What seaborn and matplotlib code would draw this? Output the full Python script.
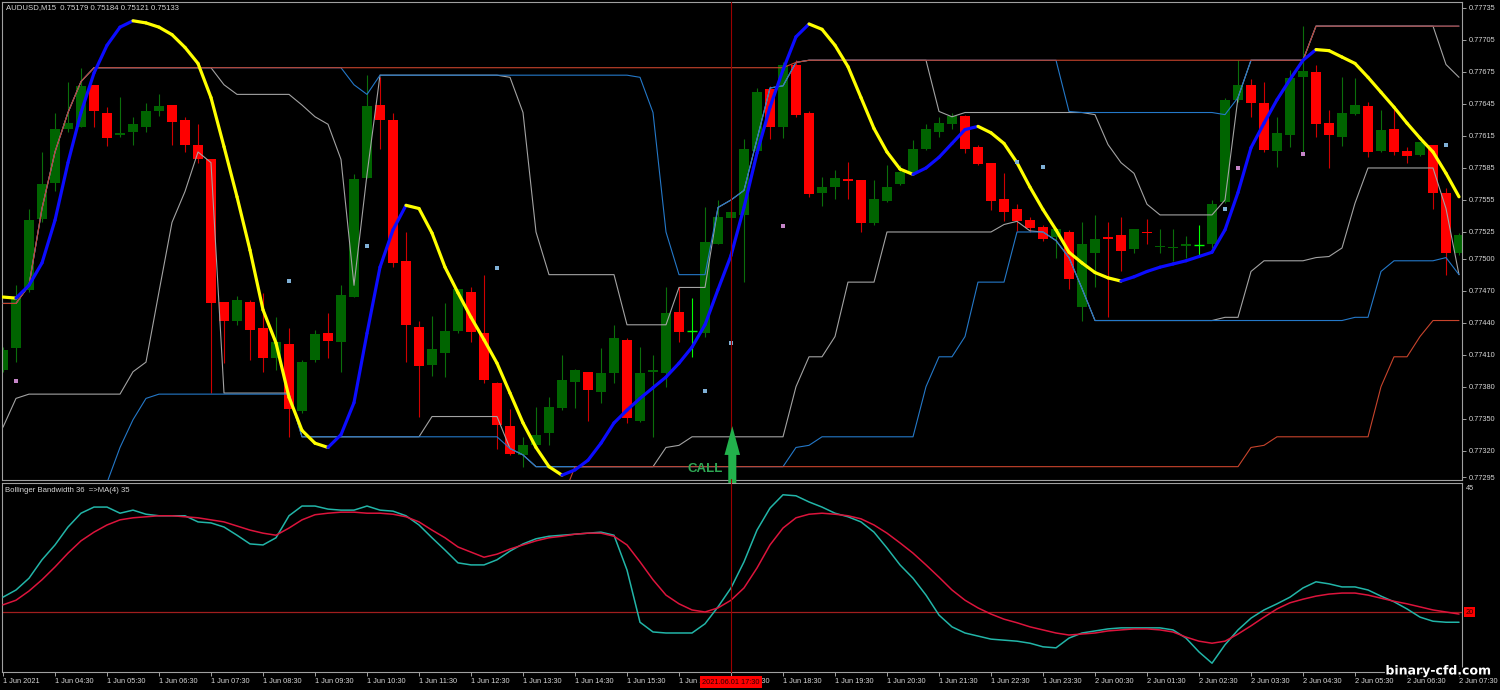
import numpy as np
import matplotlib
matplotlib.use('Agg')
import matplotlib.pyplot as plt
import seaborn as sns
from matplotlib.patches import FancyArrow
from matplotlib.collections import LineCollection
import matplotlib.patheffects as pe

# ---------------- data ----------------
opens = [0.77396,0.77416,0.77471,0.77537,0.77571,0.77622,0.77623,0.77663,0.77637,0.77616,
         0.77619,0.77623,0.77638,0.77644,0.77630,0.77607,0.77593,0.77459,0.77442,0.77459,
         0.77435,0.77407,0.77420,0.77357,0.77405,0.77430,0.77422,0.77464,0.77576,0.77644,
         0.77630,0.77498,0.77436,0.77400,0.77412,0.77432,0.77469,0.77430,0.77383,0.77343,
         0.77316,0.77325,0.77337,0.77360,0.77384,0.77394,0.77375,0.77393,0.77424,0.77348,
         0.77394,0.77393,0.77450,0.77432,0.77430,0.77514,0.77538,0.77541,0.77601,0.77659,
         0.77623,0.77682,0.77637,0.77562,0.77567,0.77575,0.77574,0.77533,0.77554,0.77570,
         0.77581,0.77603,0.77619,0.77626,0.77634,0.77605,0.77590,0.77556,0.77547,0.77536,
         0.77530,0.77520,0.77525,0.77455,0.77505,0.77520,0.77522,0.77509,0.77525,0.77511,
         0.77510,0.77512,0.77513,0.77514,0.77553,0.77649,0.77663,0.77646,0.77601,0.77616,
         0.77670,0.77675,0.77627,0.77614,0.77636,0.77643,0.77601,0.77622,0.77601,0.77597,
         0.77607,0.77562,0.77505]
highs = [0.77417,0.77475,0.77547,0.77600,0.77637,0.77666,0.77679,0.77663,0.77642,0.77652,
         0.77633,0.77646,0.77654,0.77644,0.77633,0.77626,0.77593,0.77459,0.77465,0.77461,
         0.77468,0.77445,0.77435,0.77405,0.77433,0.77449,0.77475,0.77579,0.77672,0.77670,
         0.77637,0.77525,0.77442,0.77446,0.77458,0.77472,0.77473,0.77485,0.77384,0.77359,
         0.77333,0.77361,0.77370,0.77410,0.77397,0.77394,0.77416,0.77438,0.77426,0.77417,
         0.77410,0.77473,0.77473,0.77463,0.77548,0.77555,0.77564,0.77612,0.77660,0.77662,
         0.77684,0.77686,0.77638,0.77577,0.77583,0.77591,0.77574,0.77574,0.77588,0.77588,
         0.77611,0.77626,0.77633,0.77637,0.77635,0.77607,0.77590,0.77580,0.77551,0.77539,
         0.77532,0.77528,0.77527,0.77534,0.77541,0.77534,0.77539,0.77528,0.77537,0.77528,
         0.77528,0.77521,0.77532,0.77555,0.77651,0.77686,0.77668,0.77666,0.77633,0.77677,
         0.77718,0.77682,0.77639,0.77670,0.77669,0.77647,0.77639,0.77641,0.77605,0.77609,
         0.77607,0.77566,0.77524]
lows = [0.77394,0.77403,0.77469,0.77534,0.77563,0.77619,0.77623,0.77623,0.77606,0.77614,
        0.77607,0.77619,0.77634,0.77607,0.77600,0.77590,0.77374,0.77402,0.77438,0.77405,
        0.77394,0.77396,0.77333,0.77355,0.77403,0.77407,0.77394,0.77464,0.77576,0.77603,
        0.77492,0.77403,0.77352,0.77390,0.77389,0.77430,0.77422,0.77383,0.77322,0.77316,
        0.77305,0.77323,0.77325,0.77358,0.77360,0.77348,0.77365,0.77383,0.77346,0.77347,
        0.77333,0.77380,0.77422,0.77408,0.77427,0.77514,0.77536,0.77478,0.77600,0.77612,
        0.77613,0.77633,0.77558,0.77549,0.77556,0.77556,0.77525,0.77532,0.77553,0.77569,
        0.77580,0.77602,0.77614,0.77622,0.77599,0.77588,0.77546,0.77535,0.77526,0.77525,
        0.77517,0.77501,0.77472,0.77442,0.77473,0.77445,0.77488,0.77505,0.77514,0.77505,
        0.77498,0.77501,0.77502,0.77510,0.77552,0.77647,0.77633,0.77600,0.77586,0.77605,
        0.77600,0.77614,0.77585,0.77606,0.77635,0.77595,0.77600,0.77597,0.77590,0.77596,
        0.77547,0.77485,0.77503]
closes = [0.77414,0.77463,0.77536,0.77570,0.77622,0.77627,0.77662,0.77638,0.77613,0.77618,
          0.77626,0.77638,0.77643,0.77628,0.77607,0.77593,0.77458,0.77442,0.77461,0.77433,
          0.77407,0.77422,0.77359,0.77403,0.77429,0.77423,0.77466,0.77575,0.77643,0.77630,
          0.77496,0.77438,0.77399,0.77415,0.77432,0.77472,0.77431,0.77386,0.77344,0.77317,
          0.77325,0.77335,0.77361,0.77386,0.77396,0.77377,0.77393,0.77426,0.77351,0.77393,
          0.77396,0.77449,0.77431,0.77432,0.77516,0.77539,0.77544,0.77603,0.77656,0.77623,
          0.77682,0.77635,0.77561,0.77567,0.77576,0.77573,0.77533,0.77556,0.77567,0.77581,
          0.77603,0.77622,0.77627,0.77634,0.77603,0.77589,0.77554,0.77544,0.77535,0.77529,
          0.77518,0.77528,0.77481,0.77514,0.77518,0.77518,0.77507,0.77528,0.77524,0.77512,
          0.77511,0.77514,0.77513,0.77551,0.77649,0.77663,0.77646,0.77602,0.77618,0.77669,
          0.77676,0.77626,0.77616,0.77637,0.77644,0.77600,0.77621,0.77600,0.77596,0.77609,
          0.77562,0.77505,0.77522]

# trend moving average (yellow falling / blue rising)
ma_line = [0.77464,0.77463,0.77475,0.77496,0.77536,0.77590,0.77637,0.77674,0.77700,0.77717,
           0.77723,0.77721,0.77717,0.77710,0.77698,0.77683,0.77651,0.77605,0.77558,0.77508,
           0.77452,0.77421,0.77370,0.77339,0.77327,0.77323,0.77335,0.77365,0.77430,0.77492,
           0.77527,0.77550,0.77547,0.77524,0.77492,0.77468,0.77445,0.77424,0.77402,0.77374,
           0.77346,0.77323,0.77305,0.77297,0.77302,0.77311,0.77327,0.77346,0.77358,0.77369,
           0.77379,0.77389,0.77402,0.77417,0.77438,0.77471,0.77503,0.77548,0.77599,0.77642,
           0.77677,0.77708,0.77720,0.77715,0.77700,0.77680,0.77651,0.77622,0.77600,0.77584,
           0.77579,0.77585,0.77595,0.77608,0.77621,0.77624,0.77618,0.77608,0.77590,0.77567,
           0.77546,0.77527,0.77506,0.77496,0.77487,0.77482,0.77479,0.77483,0.77488,0.77492,
           0.77495,0.77498,0.77502,0.77506,0.77527,0.77562,0.77604,0.77627,0.77649,0.77668,
           0.77686,0.77696,0.77695,0.77689,0.77683,0.77670,0.77656,0.77642,0.77627,0.77613,
           0.77600,0.77580,0.77558]

# short channel (gray)
gray_up_bar = [0,1,2,3,4,5,6,7,16,17,18,22,23,24,25,26,27,28,29,38,39,40,41,42,47,48,51,52,54,
               55,56,57,58,59,60,61,62,71,72,73,74,83,84,85,86,87,88,89,93,94,95,96,100,101,110,111,112]
gray_up = [0.77458,0.77458,0.77475,0.77547,0.77600,0.77637,0.77666,0.77679,0.77679,0.77663,0.77654,
           0.77654,0.77644,0.77633,0.77626,0.77593,0.77475,0.77579,0.77672,0.77672,0.77670,0.77637,
           0.77525,0.77485,0.77485,0.77438,0.77438,0.77473,0.77473,0.77548,0.77555,0.77564,0.77612,
           0.77660,0.77662,0.77684,0.77686,0.77686,0.77638,0.77633,0.77637,0.77637,0.77635,0.77607,
           0.77590,0.77580,0.77551,0.77541,0.77541,0.77555,0.77651,0.77686,0.77686,0.77718,0.77718,
           0.77682,0.77670]
gray_lo_bar = [0,1,2,9,10,11,12,13,14,15,16,17,22,23,32,33,38,39,40,41,50,51,52,53,60,61,62,63,64,
               65,67,68,76,77,78,79,80,81,82,83,84,93,94,95,96,97,100,101,102,103,104,105,110,111,112]
gray_lo = [0.77342,0.77369,0.77373,0.77373,0.77394,0.77403,0.77469,0.77534,0.77563,0.77600,0.77590,
           0.77374,0.77374,0.77333,0.77333,0.77352,0.77352,0.77322,0.77316,0.77305,0.77305,0.77323,
           0.77325,0.77333,0.77333,0.77380,0.77408,0.77408,0.77427,0.77478,0.77478,0.77525,0.77525,
           0.77532,0.77535,0.77526,0.77525,0.77517,0.77501,0.77472,0.77442,0.77442,0.77445,0.77445,
           0.77488,0.77498,0.77498,0.77501,0.77502,0.77510,0.77552,0.77585,0.77585,0.77547,0.77485]

# medium channel (blue)
blue_up_bar = [0,1,2,3,4,5,6,7,26,27,28,29,48,49,50,51,52,54,55,56,57,58,59,60,61,62,81,82,83,93,
               94,95,96,100,101,112]
blue_up = [0.77458,0.77458,0.77475,0.77547,0.77600,0.77637,0.77666,0.77679,0.77679,0.77663,0.77654,
           0.77672,0.77672,0.77670,0.77637,0.77525,0.77485,0.77485,0.77548,0.77555,0.77564,0.77612,
           0.77660,0.77662,0.77684,0.77686,0.77686,0.77638,0.77637,0.77637,0.77635,0.77651,0.77686,
           0.77686,0.77718,0.77718]
blue_lo_bar = [7,8,9,10,11,12,22,23,38,39,40,41,60,61,62,63,70,71,72,73,74,75,77,78,80,81,82,83,84,
               103,104,105,106,107,110,111,112]
blue_lo = [0.77246,0.77290,0.77323,0.77349,0.77369,0.77373,0.77373,0.77333,0.77333,0.77322,0.77316,
           0.77305,0.77305,0.77323,0.77325,0.77333,0.77333,0.77380,0.77408,0.77408,0.77427,0.77478,
           0.77478,0.77525,0.77525,0.77517,0.77501,0.77472,0.77442,0.77442,0.77445,0.77445,0.77488,
           0.77498,0.77498,0.77501,0.77485]

# long channel (red)
red_up_bar = [0,1,2,3,4,5,6,7,60,61,62,100,101,112]
red_up = [0.77458,0.77458,0.77475,0.77547,0.77600,0.77637,0.77666,0.77679,0.77679,0.77684,0.77686,
          0.77686,0.77718,0.77718]
red_lo_bar = [40,43,44,95,96,97,98,105,106,107,108,109,110,112]
red_lo = [0.77255,0.77274,0.77305,0.77305,0.77323,0.77325,0.77333,0.77333,0.77380,0.77408,0.77408,
          0.77427,0.77442,0.77442]

# small signal dots
pink_bar = [1, 60, 95, 100]
pink_price = [0.77385, 0.77531, 0.77585, 0.77598]
blue_dot_bar = [22, 28, 38, 54, 56, 78, 80, 94, 111]
blue_dot_price = [0.77479, 0.77512, 0.77491, 0.77376, 0.77421, 0.77591, 0.77586, 0.77547, 0.77607]

# Bollinger Bandwidth 36 and its MA(4)
bandwidth = [22.9,24.3,26.6,30.2,33.1,36.6,39.3,40.5,40.5,39.3,
             39.9,39.1,38.8,38.8,38.8,37.6,37.4,36.6,35.0,33.3,
             33.1,34.5,38.8,40.7,40.7,40.1,39.9,39.9,40.7,39.9,
             39.7,38.8,37.0,34.5,32.1,29.6,29.2,29.2,30.2,31.9,
             33.3,34.3,34.8,35.0,35.2,35.4,35.6,35.0,28.2,18.0,
             16.1,15.9,15.9,15.9,17.7,21.0,24.7,29.8,36.0,40.3,
             42.9,42.7,41.5,40.5,39.3,38.6,37.6,35.6,32.5,29.2,
             26.6,23.3,19.4,17.1,15.9,15.3,14.7,14.5,14.3,13.9,
             13.2,13.0,14.9,15.9,16.3,16.7,16.9,16.9,16.9,16.9,
             16.5,14.9,12.2,10.0,13.6,16.5,18.8,20.4,21.6,22.9,
             24.7,25.9,25.5,24.9,24.9,24.3,23.1,22.0,20.6,19.0,
             18.2,18.0,18.0]
bandwidth_ma = [21.4,22.3,24.1,26.3,28.8,31.5,33.9,35.6,37.0,38.0,
                38.4,38.6,38.8,38.8,38.6,38.4,38.0,37.6,36.8,36.0,
                35.4,35.0,36.4,38.0,39.0,39.3,39.5,39.5,39.3,39.3,
                39.1,38.6,37.6,36.0,34.5,32.7,31.7,30.7,31.3,32.3,
                33.1,33.9,34.5,34.8,35.2,35.4,35.4,34.8,33.1,29.8,
                26.3,23.3,21.6,20.4,20.0,20.8,22.3,24.7,28.6,33.1,
                36.4,38.4,39.1,39.3,39.1,38.8,38.2,37.0,35.4,33.5,
                31.5,29.2,26.8,24.3,22.3,20.8,19.6,18.6,17.9,17.1,
                16.5,15.9,15.5,15.7,15.9,16.3,16.5,16.7,16.7,16.5,
                16.1,15.1,14.3,13.9,14.3,15.7,17.3,19.0,20.6,21.8,
                22.5,23.1,23.5,23.7,23.7,23.3,22.7,22.1,21.6,21.0,
                20.4,20.0,19.6]
bw_level = 20

price_ticks = ['0.77735','0.77705','0.77675','0.77645','0.77615','0.77585','0.77555','0.77525',
               '0.77500','0.77470','0.77440','0.77410','0.77380','0.77350','0.77320','0.77295']
time_labels = ['1 Jun 2021','1 Jun 04:30','1 Jun 05:30','1 Jun 06:30','1 Jun 07:30','1 Jun 08:30',
               '1 Jun 09:30','1 Jun 10:30','1 Jun 11:30','1 Jun 12:30','1 Jun 13:30','1 Jun 14:30',
               '1 Jun 15:30','1 Jun 16:30','1 Jun 17:30','1 Jun 18:30','1 Jun 19:30','1 Jun 20:30',
               '1 Jun 21:30','1 Jun 22:30','1 Jun 23:30','2 Jun 00:30','2 Jun 01:30','2 Jun 02:30',
               '2 Jun 03:30','2 Jun 04:30','2 Jun 05:30','2 Jun 06:30','2 Jun 07:30']
time_label_bars = list(range(0, 113, 4))

cursor_bar = 56
cursor_label = '2021.06.01 17:30'
call_bar = 56
call_tip = 0.77343
call_tail = 0.77288

# ---------------- style ----------------
sns.set_theme(style='dark')
plt.rcParams['font.family'] = ['Liberation Sans', 'DejaVu Sans']

W, H = 1500, 690
fig = plt.figure(figsize=(15, 6.9), dpi=100, facecolor='black')
ax = fig.add_axes([2 / W, 1 - 480 / H, 1460 / W, 478 / H])
ax2 = fig.add_axes([2 / W, 1 - 672 / H, 1460 / W, 189 / H])

TXT = '#d6d6d6'
SPINE = '#a0a0a0'
for a in (ax, ax2):
    a.set_facecolor('black')
    a.grid(False)
    for s in a.spines.values():
        s.set_visible(True)
        s.set_color(SPINE)
        s.set_linewidth(0.8)

# ---------------- candles ----------------
x = np.arange(len(opens))
o = np.array(opens); c = np.array(closes); h = np.array(highs); l = np.array(lows)
up = c > o
dn = c < o
eq = c == o
GREEN = '#006400'
RED = '#ff0000'
ax.vlines(x[up], l[up], h[up], color='#0b6e0b', lw=0.8, zorder=2)
ax.vlines(x[dn], l[dn], h[dn], color='#d00000', lw=0.8, zorder=2)
ax.vlines(x[eq], l[eq], h[eq], color='#00ff00', lw=0.8, zorder=2)
ax.bar(x[up], c[up] - o[up], bottom=o[up], width=0.7, color=GREEN, lw=0, zorder=2.1)
ax.bar(x[dn], o[dn] - c[dn], bottom=c[dn], width=0.7, color=RED, lw=0, zorder=2.1)
ax.hlines(o[eq], x[eq] - 0.35, x[eq] + 0.35, color='#00ff00', lw=1.0, zorder=2.1)

# ---------------- channels ----------------
lw_ch = 0.8
sns.lineplot(x=gray_up_bar, y=gray_up, ax=ax, color='#a3a3a3', lw=lw_ch, estimator=None, zorder=3)
sns.lineplot(x=gray_lo_bar, y=gray_lo, ax=ax, color='#a3a3a3', lw=lw_ch, estimator=None, zorder=3)
sns.lineplot(x=blue_up_bar, y=blue_up, ax=ax, color='#2478c8', lw=lw_ch, estimator=None, zorder=3.1)
sns.lineplot(x=blue_lo_bar, y=blue_lo, ax=ax, color='#2478c8', lw=lw_ch, estimator=None, zorder=3.1)
sns.lineplot(x=red_up_bar, y=red_up, ax=ax, color='#c8442c', lw=lw_ch, estimator=None, zorder=3.2)
sns.lineplot(x=red_lo_bar, y=red_lo, ax=ax, color='#c8442c', lw=lw_ch, estimator=None, zorder=3.2)

# ---------------- trend MA ----------------
ma = np.array(ma_line)
pts = np.column_stack([x, ma])
segs = np.stack([pts[:-1], pts[1:]], axis=1)
cols = ['#ffff00' if ma[i + 1] < ma[i] else '#0c0cff' for i in range(len(ma) - 1)]
lc = LineCollection(segs, colors=cols, linewidths=2.3, zorder=4, capstyle='round')
ax.add_collection(lc)

ax.scatter(pink_bar, pink_price, marker='s', s=5, color='#c585c8', lw=0, zorder=4.5)
ax.scatter(blue_dot_bar, blue_dot_price, marker='s', s=5, color='#7fb0d6', lw=0, zorder=4.5)

# cursor line
ax.axvline(cursor_bar, color='#9b0000', lw=0.8, zorder=5, ymin=-0.01, clip_on=False)
ax2.axvline(cursor_bar, color='#9b0000', lw=0.8, zorder=5, ymax=1.02, clip_on=False)

# CALL signal
arrow = FancyArrow(call_bar + 0.1, call_tail, 0, call_tip - call_tail, width=0.62, head_width=1.2,
                   head_length=0.00027, length_includes_head=True, color='#22b14c', lw=0,
                   zorder=6, clip_on=False)
ax.add_patch(arrow)
ax.text(call_bar - 1.95, call_tail + 0.00015, 'CALL', color='#2ea653', fontsize=9.5,
        fontweight='bold', ha='center', va='center', zorder=6)

# ---------------- main axis ----------------
xlim = (-1 / 13, 1459 / 13)
ax.set_xlim(*xlim)
ax.set_ylim(0.772925, 0.777406)
ax.set_xticks([])
ax.set_xlabel('')
ax.set_ylabel('')
ax.yaxis.tick_right()
ax.set_yticks([float(v) for v in price_ticks])
ax.set_yticklabels(price_ticks)
ax.tick_params(axis='y', which='both', direction='out', length=3, width=0.7, color=SPINE,
               labelcolor=TXT, labelsize=5.3, pad=2, right=True, left=False)

fig.text(6 / W, 1 - 8 / H, 'AUDUSD,M15  0.75179 0.75184 0.75121 0.75133', color=TXT,
         fontsize=5.6, ha='left', va='center')

# ---------------- indicator ----------------
sns.lineplot(x=x, y=bandwidth, ax=ax2, color='#22b5a8', lw=1.1, estimator=None, zorder=3)
sns.lineplot(x=x, y=bandwidth_ma, ax=ax2, color='#dc143c', lw=1.1, estimator=None, zorder=3.1)
ax2.axhline(bw_level, color='#a01e1e', lw=0.9, zorder=2)
ax2.set_xlim(*xlim)
ax2.set_ylim(8.28, 45.2)
ax2.set_yticks([])
ax2.set_xlabel('')
ax2.set_ylabel('')
ax2.set_xticks(time_label_bars)
ax2.set_xticklabels(time_labels)
for t in ax2.get_xticklabels():
    t.set_ha('left')
ax2.tick_params(axis='x', direction='out', length=3, width=0.7, color=SPINE, labelcolor=TXT,
                labelsize=5.3, pad=1.5, bottom=True)
fig.text(5 / W, 1 - 490 / H, 'Bollinger Bandwidth 36  =>MA(4) 35', color=TXT, fontsize=5.6,
         ha='left', va='center')
fig.text(1466 / W, 1 - 489 / H, '45', color=TXT, fontsize=5.3, ha='left', va='center')
ax2.text(1.0025, bw_level, '20', transform=ax2.get_yaxis_transform(), color='#300000', fontsize=5.3,
         ha='left', va='center', bbox=dict(boxstyle='square,pad=0.2', fc='#ff0000', ec='none'),
         clip_on=False)

fig.text(cursor_bar * 13 / W + 3 / W, 1 - 682 / H, cursor_label, color='#2a0000', fontsize=5.3,
         ha='center', va='center', zorder=10,
         bbox=dict(boxstyle='square,pad=0.3', fc='#ff0000', ec='none'))

fig.text(1438 / W, 1 - 671 / H, 'binary-cfd.com', color='white', fontsize=9, fontweight='bold',
         family='DejaVu Sans', ha='center', va='center', zorder=11,
         path_effects=[pe.withStroke(linewidth=2.2, foreground='black')])

fig.savefig('out.png', dpi=100, facecolor='black')
